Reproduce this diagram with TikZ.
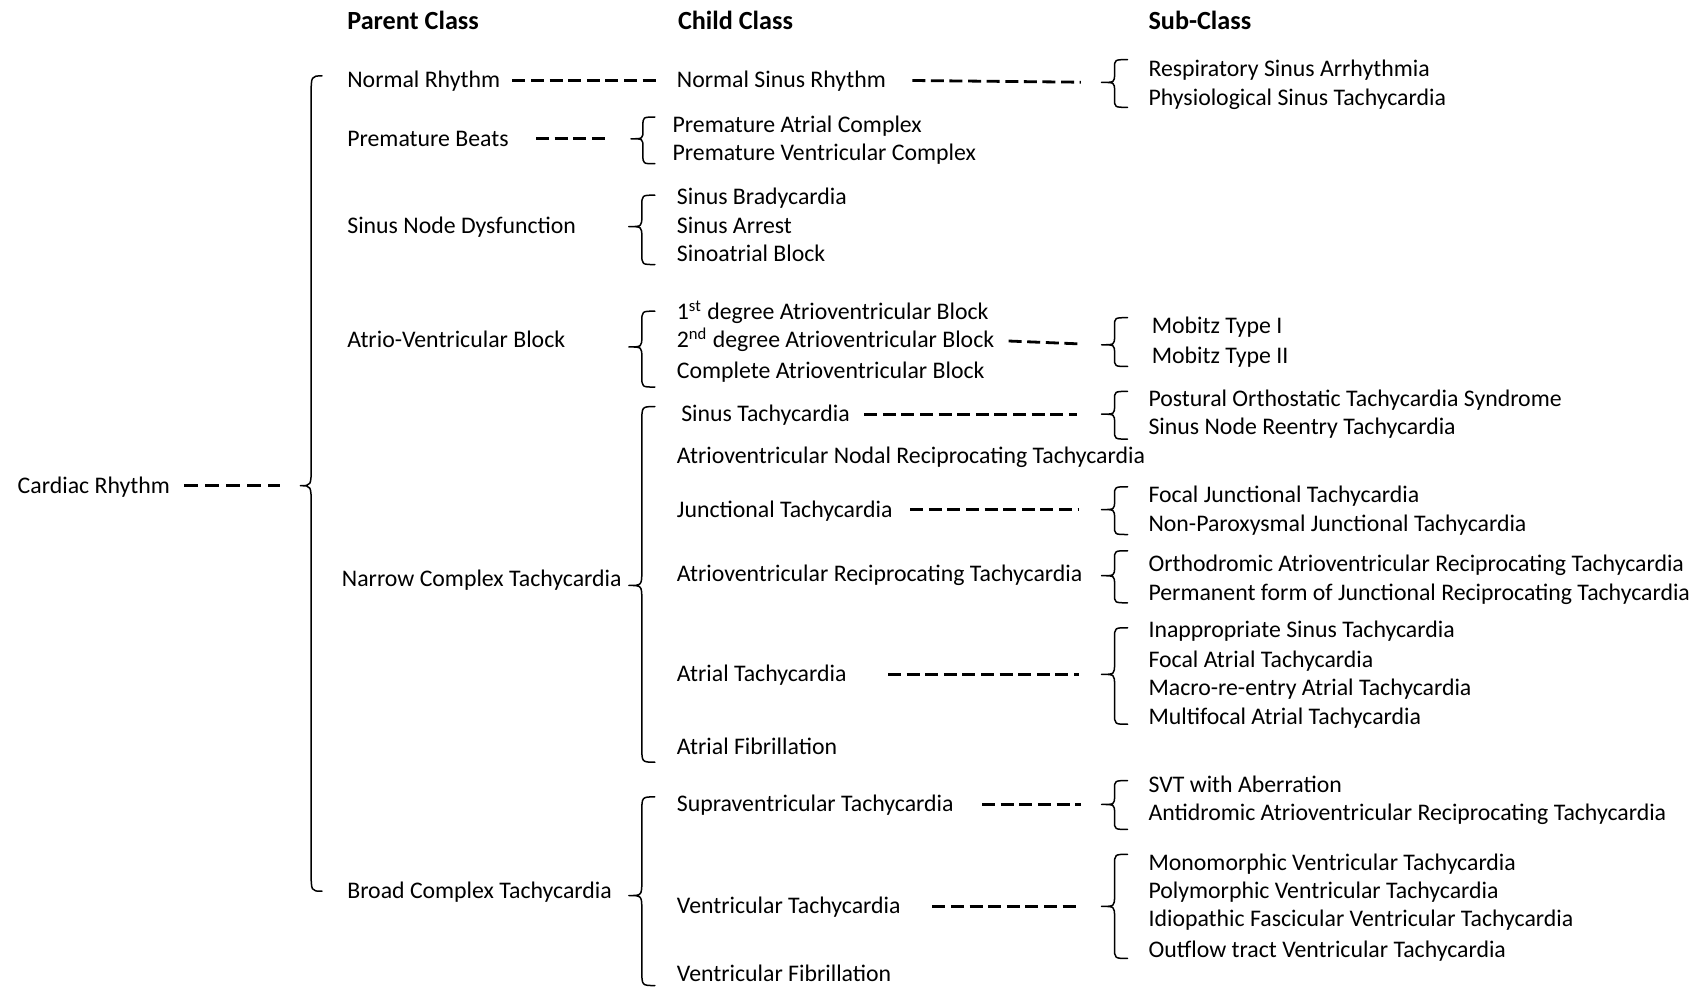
\documentclass[tikz,border=0pt]{standalone}
\usepackage{fontspec}
\setmainfont{Carlito}
\newdimen\upx \upx=0.5421pt
\tikzset{
  lbl/.style={anchor=west, inner sep=0pt, text height=8.5pt, text depth=1pt,
              font=\fontsize{11.9}{14}\selectfont},
  head/.style={lbl, font=\fontsize{13.1}{15}\selectfont\bfseries},
  link/.style={line width=1.4pt, dash pattern=on 6.5pt off 2.8pt},
  bracket/.style={line width=0.75pt, line join=round, line cap=round},
}
% #1 name of the tip, #2 tip x, #3 width, #4 top y, #5 tip y, #6 bottom y, #7 hook size
\newcommand\openbrace[7]{%
  \coordinate (#1) at (#2,#5);
  \draw[bracket] (#2+#3,#4) .. controls (#2+#3/2,#4) .. (#2+#3/2,#4+#7)
    -- (#2+#3/2,#5-#7) .. controls (#2+#3/2,#5) .. (#2,#5)
    .. controls (#2+#3/2,#5) .. (#2+#3/2,#5+#7)
    -- (#2+#3/2,#6-#7) .. controls (#2+#3/2,#6) .. (#2+#3,#6);
}
\begin{document}
\begin{tikzpicture}[x=0.5421pt, y=-0.5421pt]
\useasboundingbox (0,0) rectangle (1568,910);

% column headings
\node[head] (hp) at (320,20) {Parent Class};
\node[head] (hc) at (625,20) {Child Class};
\node[head] (hs) at (1059,20) {Sub-Class};

% root
\node[lbl] (cr) at (16,448) {Cardiac Rhythm};

% parent classes
\node[lbl] (nr)  at (320,74)  {Normal Rhythm};
\node[lbl] (pb)  at (320,128) {Premature Beats};
\node[lbl] (snd) at (320,208) {Sinus Node Dysfunction};
\node[lbl] (avb) at (320,314) {Atrio-Ventricular Block};
\node[lbl] (nct) at (315,534) {Narrow Complex Tachycardia};
\node[lbl] (bct) at (320,822) {Broad Complex Tachycardia};

% child classes
\node[lbl] (nsr)  at (624,74)  {Normal Sinus Rhythm};
\node[lbl] (pac)  at (620,115) {Premature Atrial Complex};
\node[lbl] (pvc)  at (620,141) {Premature Ventricular Complex};
\node[lbl] (sb)   at (624,182) {Sinus Bradycardia};
\node[lbl] (sa)   at (624,208) {Sinus Arrest};
\node[lbl] (sab)  at (624,234) {Sinoatrial Block};
\node[lbl] (av1)  at (624,288) {1\textsuperscript{st} degree Atrioventricular Block};
\node[lbl] (av2)  at (624,314) {2\textsuperscript{nd} degree Atrioventricular Block};
\node[lbl] (av3)  at (624,342) {Complete Atrioventricular Block};
\node[lbl] (st)   at (628,382) {Sinus Tachycardia};
\node[lbl] (avnrt) at (624,421) {Atrioventricular Nodal Reciprocating Tachycardia};
\node[lbl] (jt)   at (624,470) {Junctional Tachycardia};
\node[lbl] (avrt) at (624,529) {Atrioventricular Reciprocating Tachycardia};
\node[lbl] (at)   at (624,622) {Atrial Tachycardia};
\node[lbl] (af)   at (624,689) {Atrial Fibrillation};
\node[lbl] (svt)  at (624,742) {Supraventricular Tachycardia};
\node[lbl] (vt)   at (624,836) {Ventricular Tachycardia};
\node[lbl] (vf)   at (624,898) {Ventricular Fibrillation};

% sub-classes
\node[lbl] (rsa)  at (1059,64)  {Respiratory Sinus Arrhythmia};
\node[lbl] (pst)  at (1059,90)  {Physiological Sinus Tachycardia};
\node[lbl] (mb1)  at (1062,301) {Mobitz Type I};
\node[lbl] (mb2)  at (1062,328) {Mobitz Type II};
\node[lbl] (pots) at (1059,368) {Postural Orthostatic Tachycardia Syndrome};
\node[lbl] (snrt) at (1059,394) {Sinus Node Reentry Tachycardia};
\node[lbl] (fjt)  at (1059,457) {Focal Junctional Tachycardia};
\node[lbl] (npjt) at (1059,483) {Non-Paroxysmal Junctional Tachycardia};
\node[lbl] (oavrt) at (1059,520) {Orthodromic Atrioventricular Reciprocating Tachycardia};
\node[lbl] (pjrt) at (1059,547) {Permanent form of Junctional Reciprocating Tachycardia};
\node[lbl] (ist)  at (1059,581) {Inappropriate Sinus Tachycardia};
\node[lbl] (fat)  at (1059,609) {Focal Atrial Tachycardia};
\node[lbl] (mrat) at (1059,635) {Macro-re-entry Atrial Tachycardia};
\node[lbl] (mat)  at (1059,661) {Multifocal Atrial Tachycardia};
\node[lbl] (sva)  at (1059,724) {SVT with Aberration};
\node[lbl] (aavrt) at (1059,750) {Antidromic Atrioventricular Reciprocating Tachycardia};
\node[lbl] (mvt)  at (1059,796) {Monomorphic Ventricular Tachycardia};
\node[lbl] (pvt)  at (1059,822) {Polymorphic Ventricular Tachycardia};
\node[lbl] (ifvt) at (1059,848) {Idiopathic Fascicular Ventricular Tachycardia};
\node[lbl] (otvt) at (1059,876) {Outflow tract Ventricular Tachycardia};

% braces
\openbrace{bRoot}{277}{20}{70}{448}{822}{18}
\openbrace{bPB}{582}{22}{108}{128}{151}{8}
\openbrace{bSND}{580}{24}{180}{209}{244}{10}
\openbrace{bAVB}{580}{24}{287}{320}{357}{10}
\openbrace{bNCT}{580}{24}{375}{540}{703}{14}
\openbrace{bBCT}{580}{24}{735}{826}{909}{14}
\openbrace{bNSR}{1016}{24}{55}{76}{99}{8}
\openbrace{bAV2}{1016}{24}{293}{318}{338}{8}
\openbrace{bST}{1016}{24}{361}{382}{405}{8}
\openbrace{bJT}{1016}{24}{449}{470}{493}{8}
\openbrace{bAVRT}{1016}{24}{508}{531}{556}{8}
\openbrace{bAT}{1016}{24}{579}{622}{668}{10}
\openbrace{bSVT}{1016}{24}{720}{742}{765}{8}
\openbrace{bVT}{1016}{24}{788}{836}{884}{10}

% dashed links
\draw[link, dash pattern=on 6.8pt off 3.7pt, shorten <=13\upx, shorten >=19\upx] (cr.east) -- (bRoot);
\draw[link, shorten <=11\upx, shorten >=19\upx] (nr.east) -- (nsr.west);
\draw[link, shorten <=25\upx, shorten >=20\upx] (pb.east) -- (bPB);
\draw[link, shorten <=24\upx, shorten >=19\upx] (nsr.east) -- (bNSR);
\draw[link, shorten <=13\upx, shorten >=19\upx] (av2.east) -- (bAV2);
\draw[link, shorten <=13\upx, shorten >=23\upx] (st.east) -- (bST);
\draw[link, shorten <=16\upx, shorten >=21\upx] (jt.east) -- (bJT);
\draw[link, shorten <=38\upx, shorten >=21\upx] (at.east) -- (bAT);
\draw[link, shorten <=26\upx, shorten >=19\upx] (svt.east) -- (bSVT);
\draw[link, shorten <=29\upx, shorten >=19\upx] (vt.east) -- (bVT);
\end{tikzpicture}
\end{document}
